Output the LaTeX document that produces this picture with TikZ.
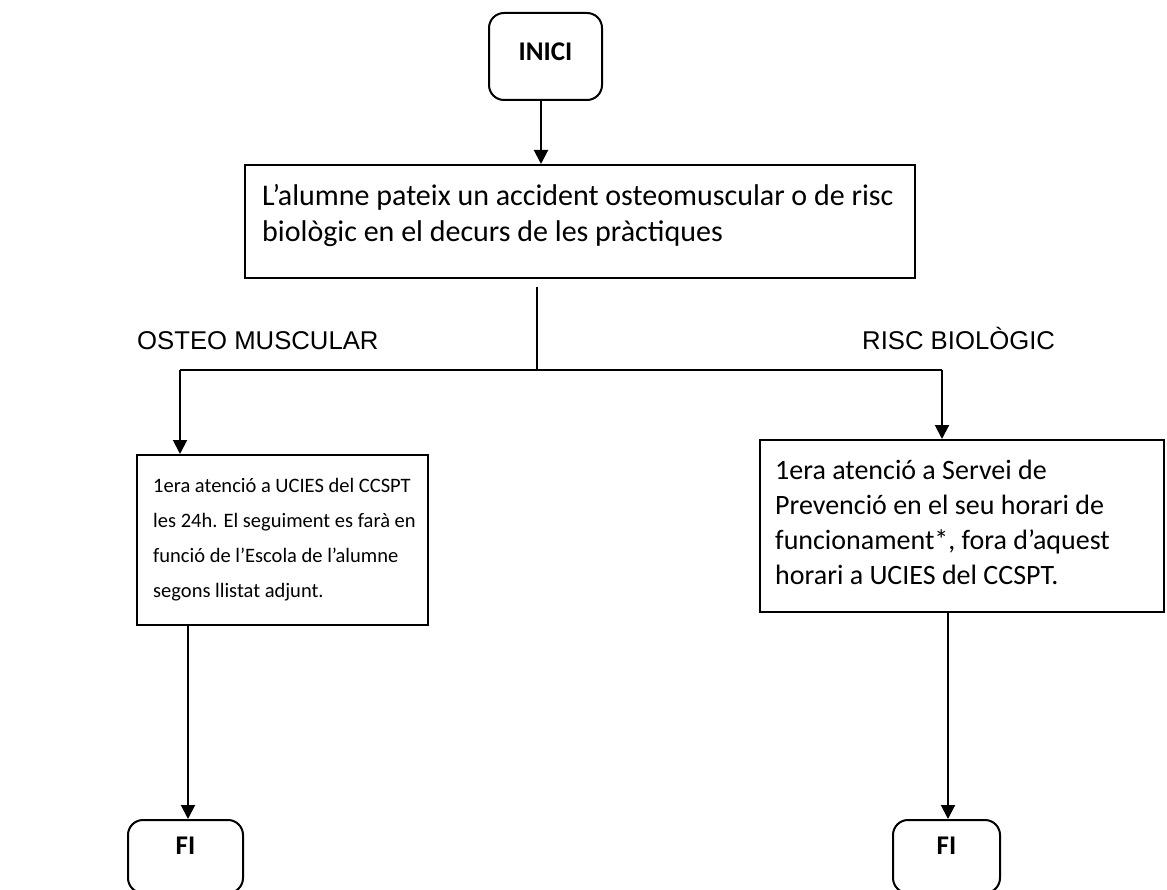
\documentclass[tikz,border=0pt]{standalone}
\usepackage{fontspec}
\setmainfont{Carlito}
\newfontfamily\arialf{Liberation Sans}
\usetikzlibrary{arrows.meta}
\begin{document}
\begin{tikzpicture}[x=1pt,y=-1pt,
  box/.style={draw, line width=2pt, inner sep=0pt},
  rbox/.style={box, rounded corners=15pt},
  arr/.style={line width=2pt, -{Triangle[width=14pt,length=14pt]}},
  thin line/.style={line width=1.3pt},
  link/.style={line width=2pt},
  maintxt/.style={anchor=base west, inner sep=0pt, font=\fontsize{30}{36}\selectfont},
  lefttxt/.style={anchor=base west, inner sep=0pt, font=\fontsize{20.5}{35}\selectfont},
  righttxt/.style={anchor=base west, inner sep=0pt, font=\fontsize{28}{35}\selectfont},
  branch/.style={anchor=base west, inner sep=0pt, font=\arialf\fontsize{25.7}{30}\selectfont},
  term/.style={anchor=base, inner sep=0pt, font=\bfseries\fontsize{27}{30}\selectfont}
]
\useasboundingbox (0,0) rectangle (1167,890);
\fill[white] (0,0) rectangle (1167,890);

% boxes
\node[rbox, minimum width=113pt, minimum height=87pt] (inici) at (545.5,56.5) {};
\node[term] (inicit) at (545.5,61) {INICI};

\node[box, minimum width=670pt, minimum height=113pt] (main) at (580,221.5) {};
\node[maintxt] (m1) at (262,206) {L’alumne pateix un accident osteomuscular o de risc};
\node[maintxt] (m2) at (262,242) {biològic en el decurs de les pràctiques};

\node[branch] (osteo) at (137,350) {OSTEO MUSCULAR};
\node[branch] (risc) at (862,350) {RISC BIOLÒGIC};

\node[box, minimum width=291pt, minimum height=170pt] (lbox) at (282.5,540) {};
\node[lefttxt] (l1) at (153,492) {1era atenció a UCIES del CCSPT};
\node[lefttxt] (l2) at (153,527) {les 24h. El seguiment es farà en};
\node[lefttxt] (l3) at (153,562) {funció de l’Escola de l’alumne};
\node[lefttxt] (l4) at (153,597) {segons llistat adjunt.};

\node[box, minimum width=404pt, minimum height=172pt] (rbox) at (962,526) {};
\node[righttxt] (r1) at (775,479) {1era atenció a Servei de};
\node[righttxt] (r2) at (775,514) {Prevenció en el seu horari de};
\node[righttxt] (r3) at (775,549) {funcionament*, fora d’aquest};
\node[righttxt] (r4) at (775,584) {horari a UCIES del CCSPT.};

\node[rbox, minimum width=115pt, minimum height=73pt] (lfi) at (185.5,856.5) {};
\node[term] (lfit) at (185.5,854) {FI};
\node[rbox, minimum width=107pt, minimum height=73pt] (rfi) at (946.5,856.5) {};
\node[term] (rfit) at (946.5,854) {FI};

% connectors
\coordinate (a1) at ([xshift=-4.5pt]inici.south);
\draw[arr] (a1) -- (a1 |- main.north);

\coordinate (stemtop) at (537,287);
\coordinate (split) at (537,370);
\draw[thin line] (stemtop) -- (split);

\coordinate (hl) at (180,370);
\coordinate (hr) at (942,370);
\draw[link] (hl) -- (hr);
\draw[arr] (hl) -- (hl |- lbox.north);
\draw[arr] (hr) -- (hr |- rbox.north);

\coordinate (dl) at (188,625);
\coordinate (dr) at (948,612);
\draw[arr] (dl) -- (dl |- lfi.north);
\draw[arr] (dr) -- (dr |- rfi.north);
\end{tikzpicture}
\end{document}
